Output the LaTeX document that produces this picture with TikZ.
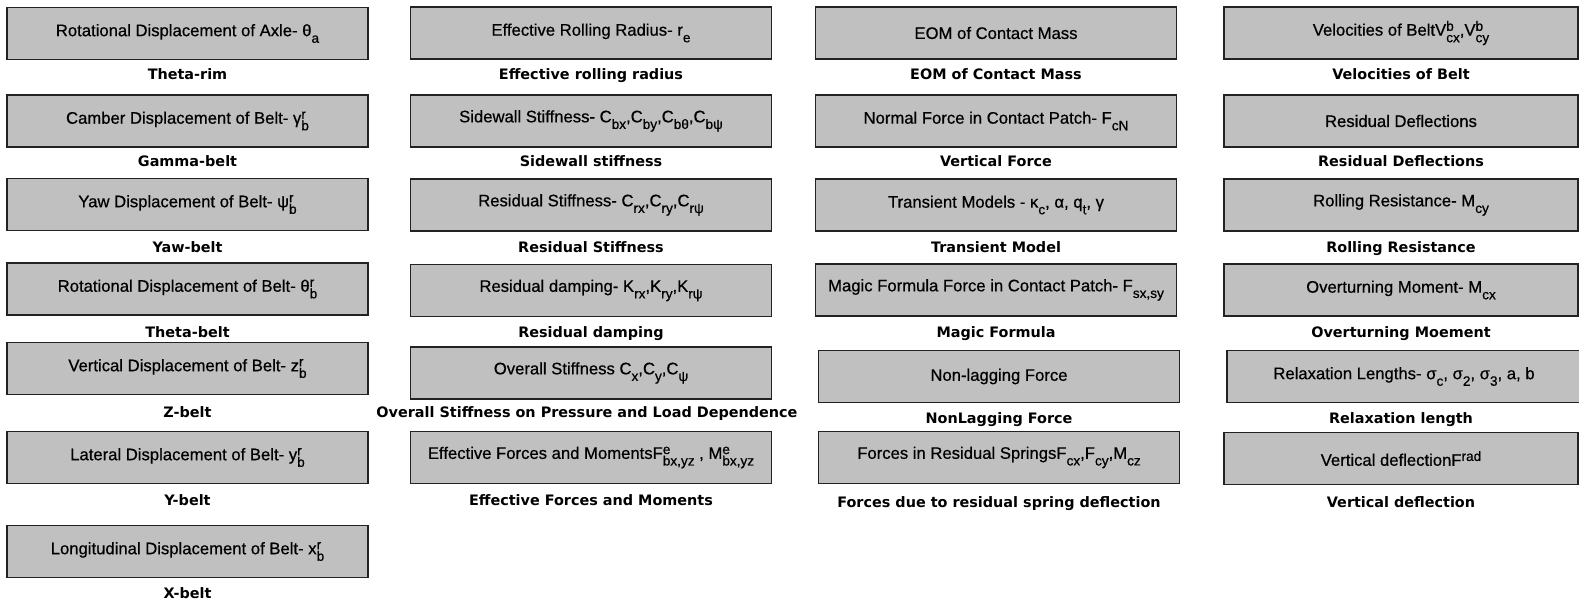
\documentclass[tikz,border=0pt]{standalone}
\usepackage{fontspec}
\setmainfont{Liberation Sans}
\newfontfamily\boxfont{Liberation Sans}[FakeBold=0.6]
\newfontfamily\capfont{DejaVu Sans}
\definecolor{boxgray}{HTML}{C0C0C0}
\definecolor{boxline}{HTML}{222222}
% index helpers: large, low subscripts and raised superscripts
\newcommand{\idxfont}{\fontsize{10.2}{10}\selectfont}
\newcommand{\lsub}[1]{\raisebox{-0.75ex}{\idxfont #1}}
\newcommand{\lsup}[1]{\raisebox{0.55ex}{\idxfont #1}}
\newcommand{\lsubsup}[2]{\makebox[0pt][l]{\lsup{#2}}\lsub{#1}}
\begin{document}
\begin{tikzpicture}[x=0.75pt,y=-0.75pt,
  param/.style={draw=boxline, fill=boxgray, line width=1.1pt, inner sep=0pt,
    minimum width=270.75pt, minimum height=39pt,
    font=\boxfont\fontsize{12.5}{14}\selectfont},
  narrow/.style={minimum width=265.5pt},
  caption/.style={inner sep=0pt, anchor=base,
    font=\capfont\bfseries\fontsize{10.8}{13}\selectfont}]
\useasboundingbox (0,0) rectangle (1579,605);

% ---- column 1: belt and axle displacements
\node[param] (thetaA) at (187.5,33.5) {Rotational Displacement of Axle- θ\lsub{a}};
\node[caption] (thetaAcap) at (187.5,79.5) {Theta-rim};
\node[param] (gammaB) at (187.5,121) {Camber Displacement of Belt- γ\lsubsup{b}{r}};
\node[caption] (gammaBcap) at (187.5,166.5) {Gamma-belt};
\node[param] (psiB) at (187.5,204.5) {Yaw Displacement of Belt- ψ\lsubsup{b}{r}};
\node[caption] (psiBcap) at (187.5,252.5) {Yaw-belt};
\node[param] (thetaB) at (187.5,289) {Rotational Displacement of Belt- θ\lsubsup{b}{r}};
\node[caption] (thetaBcap) at (187.5,337.5) {Theta-belt};
\node[param] (zB) at (187.5,368.5) {Vertical Displacement of Belt- z\lsubsup{b}{r}};
\node[caption] (zBcap) at (187.5,417.5) {Z-belt};
\node[param] (yB) at (187.5,457.5) {Lateral Displacement of Belt- y\lsubsup{b}{r}};
\node[caption] (yBcap) at (187.5,505.5) {Y-belt};
\node[param] (xB) at (187.5,551.5) {Longitudinal Displacement of Belt- x\lsubsup{b}{r}};
\node[caption] (xBcap) at (187.5,598.5) {X-belt};

% ---- column 2: radius, stiffness and damping
\node[param] (reff) at (591,33) {Effective Rolling Radius- r\lsub{e}};
\node[caption] (reffcap) at (591,79.5) {Effective rolling radius};
\node[param] (side) at (591,121) {Sidewall Stiffness- C\lsub{bx},C\lsub{by},C\lsub{bθ},C\lsub{bψ}};
\node[caption] (sidecap) at (591,166.5) {Sidewall stiffness};
\node[param] (resk) at (591,205) {Residual Stiffness- C\lsub{rx},C\lsub{ry},C\lsub{rψ}};
\node[caption] (reskcap) at (591,252.5) {Residual Stiffness};
\node[param] (resd) at (591,290.5) {Residual damping- K\lsub{rx},K\lsub{ry},K\lsub{rψ}};
\node[caption] (resdcap) at (591,337.5) {Residual damping};
\node[param] (overall) at (591,373) {Overall Stiffness C\lsub{x},C\lsub{y},C\lsub{ψ}};
\node[caption] (overallcap) at (587,417.5) {Overall Stiffness on Pressure and Load Dependence};
\node[param] (effF) at (591,457.5) {Effective Forces and MomentsF\lsubsup{bx,yz}{e} , M\lsubsup{bx,yz}{e}};
\node[caption] (effFcap) at (591,505.5) {Effective Forces and Moments};

% ---- column 3: contact patch forces
\node[param] (eom) at (996,33) {EOM of Contact Mass};
\node[caption] (eomcap) at (996,79.5) {EOM of Contact Mass};
\node[param] (normal) at (996,121) {Normal Force in Contact Patch- F\lsub{cN}};
\node[caption] (normalcap) at (996,166.5) {Vertical Force};
\node[param] (trans) at (996,205) {Transient Models - κ\lsub{c}, α, q\lsub{t}, γ};
\node[caption] (transcap) at (996,252.5) {Transient Model};
\node[param] (magic) at (996,290) {Magic Formula Force in Contact Patch- F\lsub{sx,sy}};
\node[caption] (magiccap) at (996,337.5) {Magic Formula};
\node[param] (nonlag) at (999,376.5) {Non-lagging Force};
\node[caption] (nonlagcap) at (999,423.5) {NonLagging Force};
\node[param] (springs) at (999,457.5) {Forces in Residual SpringsF\lsub{cx},F\lsub{cy},M\lsub{cz}};
\node[caption] (springscap) at (999,507.5) {Forces due to residual spring deflection};

% ---- column 4: belt velocities, moments and lengths
\node[param,narrow] (vel) at (1401,33) {Velocities of BeltV\lsubsup{cx}{b},V\lsubsup{cy}{b}};
\node[caption] (velcap) at (1401,79.5) {Velocities of Belt};
\node[param,narrow] (resdef) at (1401,121) {Residual Deflections};
\node[caption] (resdefcap) at (1401,166.5) {Residual Deflections};
\node[param,narrow] (roll) at (1401,205) {Rolling Resistance- M\lsub{cy}};
\node[caption] (rollcap) at (1401,252.5) {Rolling Resistance};
\node[param,narrow] (over) at (1401,290) {Overturning Moment- M\lsub{cx}};
\node[caption] (overcap) at (1401,337.5) {Overturning Moement};
\node[param,narrow] (relax) at (1404,376.5) {Relaxation Lengths- σ\lsub{c}, σ\lsub{2}, σ\lsub{3}, a, b};
\node[caption] (relaxcap) at (1401,423.5) {Relaxation length};
\node[param,narrow] (vdef) at (1401,458.5) {Vertical deflectionF\lsup{rad}};
\node[caption] (vdefcap) at (1401,507.5) {Vertical deflection};
\end{tikzpicture}
\end{document}
